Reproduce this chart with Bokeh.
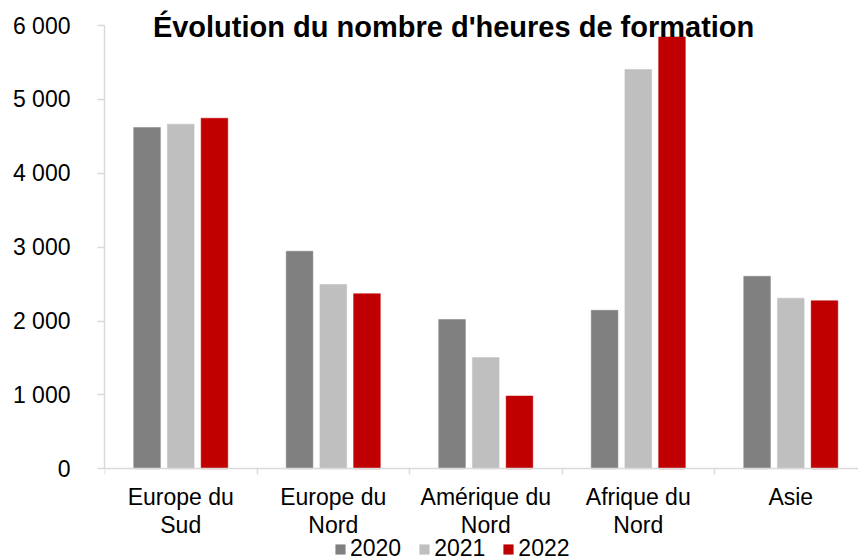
from bokeh.plotting import figure
from bokeh.models import (ColumnDataSource, Range1d, FixedTicker, LinearAxis,
                          Legend, LegendItem, Label)
from bokeh.transform import dodge
from bokeh.embed import file_html
from bokeh.resources import INLINE

# ---- data ----
categories = ["Europe du\nSud", "Europe du\nNord", "Amérique du\nNord",
              "Afrique du\nNord", "Asie"]
years = ["2020", "2021", "2022"]
v2020 = [4620, 2945, 2020, 2145, 2605]
v2021 = [4665, 2495, 1505, 5405, 2310]
v2022 = [4745, 2370, 985, 5845, 2275]
y_ticks = [0, 1000, 2000, 3000, 4000, 5000, 6000]
y_tick_labels = ["0", "1 000", "2 000", "3 000", "4 000", "5 000", "6 000"]
title_text = "Évolution du nombre d'heures de formation"

colors = ["#808080", "#bfbfbf", "#c00000"]
FONT = "Liberation Sans"

centers = [i + 0.5 for i in range(len(categories))]
src = ColumnDataSource(dict(x=centers, v2020=v2020, v2021=v2021, v2022=v2022))

# frame spans whole canvas height; value axis drawn only over 0..6000
H = 560
y0_px, ytop_px = 468.3, 25.0           # pixel rows of 0 and 6000
scale = (y0_px - ytop_px) / 6000.0
y_hi = 6000 + ytop_px / scale
y_lo = -(H - y0_px) / scale

p = figure(width=858, height=H,
           x_range=Range1d(0, 4.944), y_range=Range1d(y_lo, y_hi),
           output_backend="svg", toolbar_location=None,
           min_border_left=104, min_border_right=0,
           min_border_top=0, min_border_bottom=0)
p.outline_line_color = None
p.grid.visible = False
p.background_fill_color = "white"
p.border_fill_color = "white"

bw = 0.175
off = 0.221
renderers = []
for k, (col, c) in enumerate(zip(["v2020", "v2021", "v2022"], colors)):
    r = p.vbar(x=dodge("x", (k - 1) * off, range=p.x_range), top=col, bottom=0,
               width=bw, source=src, fill_color=c, line_color=c, line_width=0.5)
    renderers.append(r)

# y axis
ya = p.yaxis[0]
ya.ticker = FixedTicker(ticks=y_ticks)
ya.bounds = (0, 6000)
ya.major_label_overrides = {t: l for t, l in zip(y_ticks, y_tick_labels)}
ya.axis_line_color = "#d9d9d9"
ya.axis_line_width = 1.5
ya.major_tick_line_color = "#d9d9d9"
ya.major_tick_line_width = 1.5
ya.major_tick_out = 7
ya.major_tick_in = 0
ya.minor_tick_line_color = None
ya.major_label_standoff = 27
ya.major_label_text_font = FONT
ya.major_label_text_font_size = "23px"
ya.major_label_text_color = "black"

# x axis at value 0: boundary ticks only
xa = p.xaxis[0]
xa.fixed_location = 0
xa.ticker = FixedTicker(ticks=list(range(len(categories) + 1)))
xa.major_label_overrides = {i: "" for i in range(len(categories) + 1)}
xa.major_label_text_font_size = "1px"
xa.major_label_standoff = 0
xa.axis_line_color = "#d9d9d9"
xa.axis_line_width = 1.5
xa.major_tick_line_color = "#d9d9d9"
xa.major_tick_line_width = 1.5
xa.major_tick_out = 6
xa.major_tick_in = 0
xa.minor_tick_line_color = None

# category labels at centres
la = LinearAxis(ticker=FixedTicker(ticks=centers), fixed_location=0,
                major_label_overrides={c: l for c, l in zip(centers, categories)})
la.axis_line_color = None
la.major_tick_line_color = None
la.minor_tick_line_color = None
la.major_tick_out = 0
la.major_tick_in = 0
la.major_label_standoff = 15
la.major_label_text_font = FONT
la.major_label_text_font_size = "23px"
la.major_label_text_line_height = 1.1
la.major_label_text_color = "black"
p.add_layout(la, "below")

# legend
legend = Legend(items=[LegendItem(label=y, renderers=[r]) for y, r in zip(years, renderers)],
                orientation="horizontal", location=(230, -2))
legend.label_text_font = FONT
legend.label_text_font_size = "23px"
legend.label_text_color = "black"
legend.glyph_width = 12
legend.glyph_height = 12
legend.label_standoff = 4
legend.spacing = 17
legend.padding = 0
legend.margin = 0
legend.border_line_color = None
legend.background_fill_alpha = 0
p.add_layout(legend)

# title
p.add_layout(Label(x=2.289, y=5980, text=title_text, text_align="center",
                   text_baseline="alphabetic", text_font=FONT,
                   text_font_size="29px", text_font_style="bold",
                   text_color="black"))

open("out.html", "w").write(file_html(p, INLINE))
